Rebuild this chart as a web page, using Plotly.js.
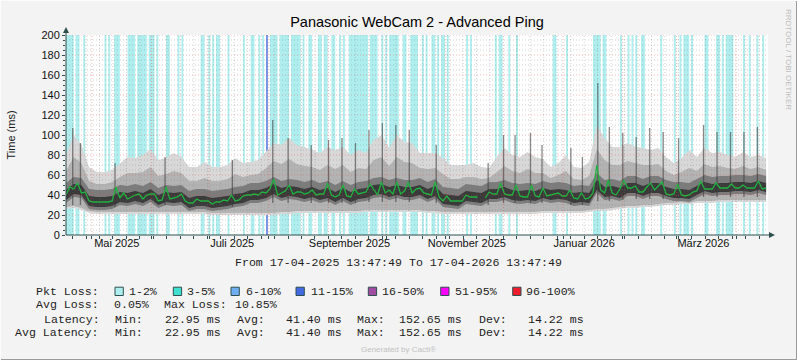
<!DOCTYPE html>
<html><head><meta charset="utf-8">
<script src="https://cdn.plot.ly/plotly-3.0.1.min.js"></script>
<style>html,body{margin:0;padding:0;background:#f3f3f3}#chart{width:797px;height:360px}</style>
</head><body><div id="chart"></div>
<script>
// ---------------- DATA ----------------
const START = Date.UTC(2025, 3, 17, 13, 47, 49);
const END = Date.UTC(2026, 3, 17, 13, 47, 49);
const DAY = 86400000;
const MEDIAN_STEP_DAYS = 2;
const BAND_STEP_DAYS = 4;

// median latency (ms), one value every 2 days
const medianMs = [
 40,48,46,52,42,43,34,33,33,33, 33,33,34,48,37,42,36,38,40,41,
 36,40,41,41,34,35,48,36,37,38, 41,34,32,32,36,34,34,34,31,33,
 33,35,34,40,34,35,39,40,40,41, 40,43,42,46,56,40,42,44,50,41,
 43,43,41,42,45,40,41,41,52,40, 38,40,50,39,38,46,41,42,43,51,
 45,40,53,42,45,41,53,41,44,53, 42,46,47,42,41,40,53,38,34,39,
 34,34,34,34,40,38,38,38,null,37, 43,41,41,52,41,40,40,50,39,38,
 38,50,39,38,47,39,40,41,42,39, 39,45,37,36,42,36,37,42,70,45,
 42,55,42,40,46,55,47,47,49,43, 43,48,52,45,49,53,41,40,41,51,
 40,39,40,43,44,54,46,46,46,52, 47,47,47,51,47,47,50,47,47,47,
 54,46,47
];

// smoke band edges (ms), one value every 4 days; 1 = outermost/lightest, 4 = darkest core
const bandTop1 = [
 80,100,90,68,63,63,65,72,78,77, 80,86,75,77,82,78,68,68,73,68,
 68,70,77,72,73,75,83,92,90,97, 90,88,85,82,88,85,88,80,85,82,
 95,100,87,100,93,92,82,82,82,77, 70,70,70,72,68,67,78,87,80,78,
 83,78,76,68,72,80,68,67,73,110, 97,88,88,92,88,87,85,87,78,72,
 77,85,78,87,82,83,80,78,83,78, 80,77];
const bandTop2 = [
 64,78,72,54,51,51,53,58,62,62, 63,68,59,61,64,62,54,54,57,54,
 54,56,61,58,60,61,67,74,71,76, 71,69,68,65,70,66,70,63,67,66,
 75,78,69,78,73,72,67,66,67,61, 56,56,58,58,56,57,63,69,64,62,
 66,62,62,57,60,64,56,55,59,86, 75,70,70,74,72,70,70,71,64,60,
 63,67,64,71,68,69,67,66,69,66, 68,65];
const bandTop3 = [
 52,58,57,46,45,45,46,50,49,51, 49,53,47,50,49,50,44,46,46,44,
 45,46,48,49,52,52,54,58,54,56, 55,53,55,52,54,50,54,50,53,54,
 57,58,55,57,55,55,57,53,56,48, 47,46,51,50,49,53,53,55,52,51,
 52,51,54,52,53,52,49,50,49,62, 55,56,54,59,59,56,59,59,55,53,
 53,52,56,60,58,59,59,60,60,59, 61,59];
const bandTop4 = [
 45,51,50,39,38,38,39,43,42,44, 42,46,40,43,42,43,37,39,39,37,
 38,39,41,42,45,45,47,51,47,49, 48,46,48,45,47,43,47,43,46,47,
 50,51,48,50,48,48,50,46,49,41, 40,39,44,43,42,46,46,48,45,44,
 45,44,47,45,46,45,42,43,42,55, 48,49,47,52,52,49,52,52,48,46,
 46,45,49,53,51,52,52,53,53,52, 54,52];
const bandBot4 = [
 35,41,40,29,28,28,29,33,32,34, 32,36,30,33,32,33,27,29,29,27,
 28,29,31,32,35,35,37,41,37,39, 38,36,38,35,37,33,37,33,36,37,
 40,41,38,40,38,38,40,36,39,31, 30,29,34,33,32,36,36,38,35,34,
 35,34,37,35,36,35,32,33,32,45, 38,39,37,42,42,39,42,42,39,37,
 37,36,40,44,42,43,43,44,44,43, 45,43];
const bandBot3 = [
 32,38,37,26,25,25,26,30,29,31, 29,33,27,30,29,30,24,26,26,24,
 25,26,28,29,32,32,34,38,34,36, 35,33,35,32,34,30,34,30,33,34,
 37,38,35,37,35,35,37,33,36,28, 27,26,31,30,29,33,33,35,32,31,
 32,31,34,32,33,32,29,30,29,42, 35,36,34,39,39,36,39,39,36,34,
 34,33,37,41,39,40,40,41,41,40, 42,40];
const bandBot2 = [
 28,29,27,24,23,23,23,23,23,23, 23,23,23,23,23,23,23,23,23,22,
 22,22,22,22,22,22,22,22,23,23, 24,24,24,24,24,24,24,24,24,25,
 25,25,25,25,25,25,25,24,24,23, 23,23,23,23,23,23,23,23,23,23,
 23,23,24,24,24,24,24,24,25,26, 26,27,28,29,29,30,30,31,32,32,
 33,32,34,34,34,35,35,35,35,35, 35,35];
const bandBot1 = [
 26,27,25,22,21,21,21,21,21,21, 21,21,21,21,21,21,21,21,21,20,
 20,20,20,20,20,20,20,20,21,21, 22,22,22,22,22,22,22,22,22,23,
 23,23,23,23,23,23,23,22,22,21, 21,21,21,21,21,21,21,21,21,21,
 21,21,22,22,22,22,22,22,23,24, 24,25,26,27,27,28,28,29,30,30,
 31,31,32,32,32,33,33,33,33,33, 33,33];

// single-day latency spikes: day index, low end and high end (ms)
const spikeDays = [3,7,25,51,86,107,115,127,136,143,150,157,164,171,178,192,219,227,233,241,247,262,268,276,282,289,296,303,310,318,331,338,345,352,359];
const spikeTops = [107,92,72,78,75,115,97,90,95,97,92,105,112,110,105,90,72,100,100,102,90,87,78,152,108,102,98,107,103,97,110,103,103,103,108];
const spikeLows = [30,30,28,30,28,32,32,32,32,32,32,33,33,33,33,32,30,32,32,32,32,30,30,34,34,35,36,36,36,36,38,38,38,38,38];

// packet loss days (day index from start)
const loss1to2Days = [0,1,2,3,5,6,9,20,22,25,26,27,32,33,34,35,37,38,39,40,41,43,44,45,47,52,53,58,60,70,71,74,76,78,79,84,92,96,97,100,102,106,107,108,109,111,112,113,114,115,117,118,119,120,121,123,126,127,131,132,134,135,138,139,142,144,147,148,149,150,151,152,153,154,155,156,158,159,160,161,164,166,168,169,170,171,172,175,176,179,180,181,182,185,187,190,191,193,195,196,198,208,210,223,225,226,230,234,253,254,260,274,275,276,277,279,280,288,292,294,296,299,300,309,316,319,321,322,323,325,332,333,338,339,341,343,344,345,346,352,355,359,362];
const loss11to15Days = [104];
const LOSS_FULL = 200;

// axis labels
const monthLabelDates = ['2025-05-14','2025-07-13','2025-09-12','2025-11-12','2026-01-12','2026-03-15'];
const monthLabelText = ['Mai 2025','Juli 2025','September 2025','November 2025','Januar 2026','März 2026'];
const yTickVals = [0,20,40,60,80,100,120,140,160,180,200];

// legend / statistics
const lossLabels = ['1-2%','3-5%','6-10%','11-15%','16-50%','51-95%','96-100%'];
const lossColors = ['#AFEEEE','#40E0D0','#6FAEF0','#4169E1','#A04CA0','#FF00FF','#EE1C2C'];
const avgLoss = '0.05%';
const maxLoss = '10.85%';
const latencyStats = ['22.95','41.40','152.65','14.22'];     // min, avg, max, dev
const avgLatencyStats = ['22.95','41.40','152.65','14.22'];

// ---------------- BUILD ----------------
const medX = medianMs.map((_, i) => START + i * MEDIAN_STEP_DAYS * DAY);
const bandX = bandTop1.map((_, i) => START + i * BAND_STEP_DAYS * DAY);
const dayX = d => START + (d + 0.5) * DAY;

// loss areas: consecutive days merged into full-height blocks
function lossBlocks(days) {
  const xs = [], ys = [];
  const sorted = days.slice().sort((a, b) => a - b);
  let i = 0;
  while (i < sorted.length) {
    let j = i;
    while (j + 1 < sorted.length && sorted[j + 1] === sorted[j] + 1) j++;
    const a = START + sorted[i] * DAY, b = START + (sorted[j] + 1) * DAY;
    xs.push(a, a, b, b, null); ys.push(0, LOSS_FULL, LOSS_FULL, 0, null);
    i = j + 1;
  }
  return {xs, ys};
}
const traces = [];
const lb = lossBlocks(loss1to2Days);
traces.push({type:'scatter', mode:'lines', x: lb.xs, y: lb.ys, fill:'toself', fillcolor: lossColors[0],
  line:{width:0, color: lossColors[0]}, hoverinfo:'skip', showlegend:false});
const bx = [], by = [];
loss11to15Days.forEach(d => { bx.push(dayX(d), dayX(d), null); by.push(0, LOSS_FULL, null); });
traces.push({type:'scatter', mode:'lines', x: bx, y: by, line:{width:1.4, color: lossColors[3]}, hoverinfo:'skip', showlegend:false});

const bandPairs = [[bandBot1, bandTop1, '#d8d8d8'], [bandBot2, bandTop2, '#b3b3b3'],
                   [bandBot3, bandTop3, '#7c7c7c'], [bandBot4, bandTop4, '#3a3a3a']];
bandPairs.forEach(([lo, hi, col]) => {
  traces.push({type:'scatter', mode:'lines', x: bandX, y: lo, line:{width:0}, hoverinfo:'skip', showlegend:false});
  traces.push({type:'scatter', mode:'lines', x: bandX, y: hi, line:{width:0}, fill:'tonexty', fillcolor: col, hoverinfo:'skip', showlegend:false});
});

const sx = [], sy = [];
spikeDays.forEach((d, k) => { sx.push(dayX(d), dayX(d), null); sy.push(spikeLows[k], spikeTops[k], null); });
traces.push({type:'scatter', mode:'lines', x: sx, y: sy, line:{width:1.3, color:'rgba(55,55,55,0.6)'}, hoverinfo:'skip', showlegend:false});

traces.push({type:'scatter', mode:'lines', x: medX, y: medianMs, line:{width:1.3, color:'#1FB33F'}, connectgaps:false, hoverinfo:'skip', showlegend:false});

// grid positions (weekly Mondays + month starts), drawn above the traces like rrdtool does
const weekMs = [], monthMs = [];
for (let t = Date.UTC(2025,3,21); t < END; t += 7*DAY) weekMs.push(t);
for (let m = 4; ; m++) { const t = Date.UTC(2025, m, 1); if (t > END) break; monthMs.push(t); }

const PL = 66, PR = 768, PT = 35, PB = 235;
const PX = px => (px - PL) / (PR - PL);
const PY = py => (PB - py) / (PB - PT);

const MINOR = 'rgba(120,120,120,0.32)', MAJOR = 'rgba(225,60,60,0.38)', AXIS = '#2F4F4F';
const shapes = [];
for (let v = 5; v <= 200; v += 5) {
  shapes.push({type:'line', layer:'above', xref:'paper', yref:'y', x0:0, x1:1, y0:v, y1:v,
    line:{color: v % 20 === 0 ? MAJOR : MINOR, width:1, dash:'1px,2px'}});
}
weekMs.forEach(t => { if (!monthMs.some(m => Math.abs(m - t) < DAY/2))
  shapes.push({type:'line', layer:'above', xref:'x', yref:'paper', x0:t, x1:t, y0:0, y1:1, line:{color:MINOR, width:1, dash:'1px,2px'}}); });
monthMs.forEach(t => shapes.push({type:'line', layer:'above', xref:'x', yref:'paper', x0:t, x1:t, y0:0, y1:1, line:{color:MAJOR, width:1, dash:'1px,2px'}}));

// axis arrows
shapes.push({type:'line', layer:'above', xref:'paper', yref:'paper', x0:PX(66), x1:PX(66), y0:PY(235), y1:PY(31), line:{color:AXIS, width:1}});
shapes.push({type:'path', layer:'above', xref:'paper', yref:'paper', fillcolor:AXIS, line:{width:0},
  path:`M ${PX(66)} ${PY(27)} L ${PX(63)} ${PY(33)} L ${PX(69)} ${PY(33)} Z`});
shapes.push({type:'line', layer:'above', xref:'paper', yref:'paper', x0:PX(66), x1:PX(771), y0:0, y1:0, line:{color:AXIS, width:1}});
shapes.push({type:'path', layer:'above', xref:'paper', yref:'paper', fillcolor:AXIS, line:{width:0},
  path:`M ${PX(775)} ${PY(235)} L ${PX(769)} ${PY(232)} L ${PX(769)} ${PY(238)} Z`});

// image frame
shapes.push({type:'line', xref:'paper', yref:'paper', x0:PX(0), x1:PX(797), y0:PY(359.5), y1:PY(359.5), line:{color:'#9a9a9a', width:1}});
shapes.push({type:'line', xref:'paper', yref:'paper', x0:PX(796.5), x1:PX(796.5), y0:PY(0), y1:PY(360), line:{color:'#9a9a9a', width:1}});
shapes.push({type:'line', xref:'paper', yref:'paper', x0:PX(0), x1:PX(797), y0:PY(0.5), y1:PY(0.5), line:{color:'#fcfcfc', width:1}});
shapes.push({type:'line', xref:'paper', yref:'paper', x0:PX(0.5), x1:PX(0.5), y0:PY(0), y1:PY(360), line:{color:'#fcfcfc', width:1}});

// legend boxes
const boxLeft = [115, 173.3, 231, 296, 368.3, 440.7, 512.7];
const boxText = [130, 188.3, 246.7, 311.7, 383.3, 455.7, 527.3];
boxLeft.forEach((bxp, k) => shapes.push({type:'rect', xref:'paper', yref:'paper', x0:PX(bxp), x1:PX(bxp+8.3), y0:PY(295.5), y1:PY(287.2),
  fillcolor: lossColors[k], line:{color:AXIS, width:1}}));

const MONO = 'Liberation Mono, Courier New, monospace';
const ann = [];
const T = (text, px, py, o = {}) => ann.push(Object.assign({text, xref:'paper', yref:'paper', x:PX(px), y:PY(py),
  xanchor:'left', yanchor:'middle', showarrow:false, borderpad:0, borderwidth:0,
  font:{family:MONO, size:11.6, color:'#1e1e1e'}}, o));

T('From 17-04-2025 13:47:49 To 17-04-2026 13:47:49', 398.5, 262.7, {xanchor:'center'});
T('Pkt Loss:', 36, 291);
lossLabels.forEach((l, k) => T(l, boxText[k] - 1, 291.5));
T('Avg Loss:', 36, 304.3); T(avgLoss, 113.5, 304.3); T('Max Loss:', 164.3, 304.3); T(maxLoss, 235, 304.3);
const statRow = (label, lx, py, s) => {
  T(label, lx, py); T('Min:', 115.3, py); T(s[0] + ' ms', 165, py); T('Avg:', 236.6, py);
  T(s[1] + ' ms', 286, py); T('Max:', 357.3, py); T(s[2] + ' ms', 398.8, py); T('Dev:', 478.6, py); T(s[3] + ' ms', 527.6, py);
};
statRow('Latency:', 43.6, 319, latencyStats);
statRow('Avg Latency:', 15.3, 332.5, avgLatencyStats);
T('Generated by Cacti®', 398.5, 349.5, {xanchor:'center', font:{family:'Liberation Sans, Arial, sans-serif', size:8, color:'#c2c2c2'}});
T('RRDTOOL / TOBI OETIKER', 789, 60, {xanchor:'center', textangle:90, font:{family:'Liberation Sans, Arial, sans-serif', size:8, color:'#bdbdbd'}});
T('Time (ms)', 10.5, 135, {xanchor:'center', textangle:-90, font:{family:'Liberation Sans, Arial, sans-serif', size:11, color:'#1a1a1a'}});

const layout = {
  width:797, height:360,
  margin:{l:PL, r:797-PR, t:PT, b:360-PB, pad:0},
  paper_bgcolor:'#f3f3f3', plot_bgcolor:'#ffffff',
  showlegend:false,
  title:{text:'Panasonic WebCam 2 - Advanced Ping', x:0.5, xref:'paper', xanchor:'center',
         y:(360-22)/360, yref:'container', yanchor:'middle',
         font:{family:'Liberation Sans, Arial, sans-serif', size:14.5, color:'#000'}},
  xaxis:{type:'date', range:[START, END], fixedrange:true, showgrid:false, zeroline:false, showline:false,
         tickmode:'array', tickvals:monthLabelDates, ticktext:monthLabelText, ticks:'',
         tickfont:{family:'Liberation Sans, Arial, sans-serif', size:11, color:'#111'},
         minor:{tickmode:'array', tickvals: weekMs.concat(monthMs), ticks:'outside', ticklen:3, tickcolor:AXIS, showgrid:false}},
  yaxis:{range:[0,200], fixedrange:true, showgrid:false, zeroline:false, showline:false,
         tickmode:'array', tickvals:yTickVals, ticks:'outside', ticklen:3, tickcolor:AXIS,
         minor:{dtick:5, ticks:'outside', ticklen:2, tickcolor:AXIS, showgrid:false},
         tickfont:{family:'Liberation Sans, Arial, sans-serif', size:11, color:'#111'}},
  shapes, annotations: ann
};

Plotly.newPlot('chart', traces, layout, {displayModeBar:false, staticPlot:true});
</script></body></html>
